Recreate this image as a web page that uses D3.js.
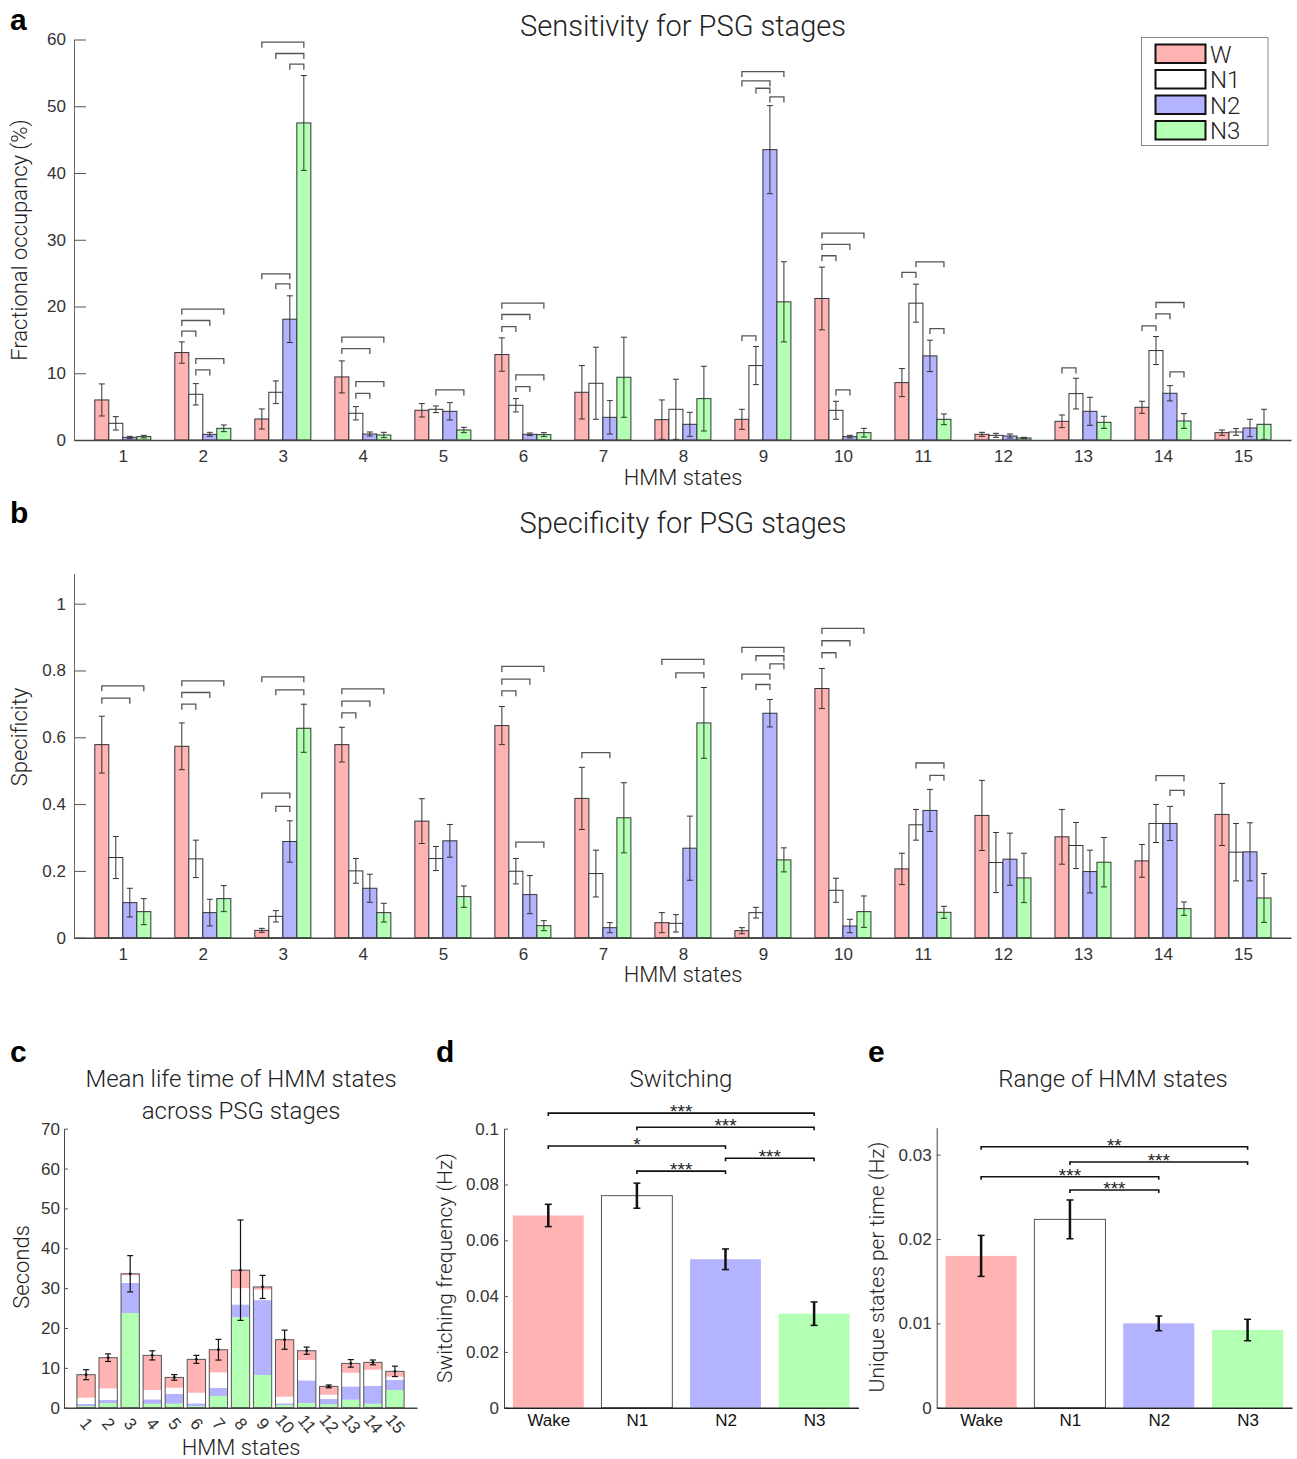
<!DOCTYPE html>
<html><head><meta charset="utf-8">
<script src="https://cdn.jsdelivr.net/npm/d3@7"></script>
<style>
body{margin:0;background:#fff}
svg text{font-family:"Liberation Sans",Arial,Helvetica,sans-serif}
svg text.light{font-family:Roboto,"Liberation Sans",sans-serif;font-weight:300}
</style></head><body>
<svg id="fig" width="1297" height="1459" xmlns="http://www.w3.org/2000/svg"></svg>
<script>
// ---- data ----
const stateLabels = ["1","2","3","4","5","6","7","8","9","10","11","12","13","14","15"];
const stageNames = ["W","N1","N2","N3"];
const stageLabels = ["Wake","N1","N2","N3"];
const stageColors = ["#ffb3b3","#ffffff","#b3b3ff","#b3ffb3"];

// fractional occupancy (%) per HMM state, columns W, N1, N2, N3
const sensMean = [
  [6.0,2.5,0.4,0.5],[13.1,6.85,0.85,1.75],[3.15,7.15,18.1,47.5],[9.45,4.0,0.9,0.75],
  [4.45,4.6,4.3,1.5],[12.8,5.2,0.85,0.8],[7.15,8.5,3.4,9.4],[3.05,4.6,2.35,6.2],
  [3.1,11.15,43.5,20.7],[21.2,4.45,0.5,1.1],[8.6,20.5,12.6,3.1],[0.85,0.7,0.6,0.3],
  [2.8,6.95,4.3,2.65],[4.9,13.4,7.0,2.85],[1.1,1.2,1.8,2.35]];
const sensErr = [
  [2.4,1.0,0.15,0.2],[1.6,1.6,0.3,0.5],[1.5,1.7,3.5,7.1],[2.4,1.0,0.3,0.4],
  [1.0,0.5,1.3,0.4],[2.5,1.0,0.2,0.3],[4.0,5.4,2.5,6.0],[2.95,4.5,1.8,4.85],
  [1.5,2.85,6.6,6.0],[4.7,1.35,0.2,0.65],[2.1,2.85,2.35,0.8],[0.3,0.3,0.3,0.1],
  [0.95,2.3,2.1,0.9],[0.9,2.1,1.15,1.1],[0.4,0.5,1.3,2.25]];
// significant pairs: [state, stage from, stage to, bracket level]
const sensSig = [
  [2,0,3,19.6],[2,0,2,17.9],[2,0,1,16.3],[2,1,3,12.2],[2,1,2,10.5],
  [3,0,3,59.6],[3,1,3,57.9],[3,2,3,56.3],[3,0,2,24.9],[3,1,2,23.4],
  [4,0,3,15.4],[4,0,2,13.7],[4,1,3,8.75],[4,1,2,7.0],
  [5,1,3,7.5],
  [6,0,3,20.5],[6,0,2,18.8],[6,0,1,17.0],[6,1,3,9.75],[6,1,2,8.0],
  [9,0,3,55.2],[9,0,2,53.8],[9,1,2,52.7],[9,2,3,51.4],[9,0,1,15.6],
  [10,0,3,31.0],[10,0,2,29.3],[10,0,1,27.6],[10,1,2,7.5],
  [11,1,3,26.7],[11,0,1,25.1],[11,2,3,16.7],
  [13,0,1,10.8],
  [14,1,3,20.6],[14,1,2,18.9],[14,0,1,17.1],[14,2,3,10.2]];
const sensTicks = [0,10,20,30,40,50,60];

// specificity per HMM state, columns W, N1, N2, N3
const specMean = [
  [0.578,0.24,0.105,0.078],[0.573,0.236,0.075,0.117],[0.022,0.064,0.288,0.627],[0.578,0.2,0.148,0.075],
  [0.349,0.237,0.29,0.123],[0.635,0.199,0.129,0.036],[0.417,0.192,0.03,0.359],[0.045,0.043,0.268,0.643],
  [0.021,0.075,0.672,0.233],[0.746,0.142,0.035,0.078],[0.206,0.338,0.381,0.076],[0.366,0.225,0.235,0.179],
  [0.302,0.276,0.198,0.226],[0.23,0.342,0.342,0.087],[0.369,0.256,0.257,0.119]];
const specErr = [
  [0.085,0.063,0.043,0.039],[0.07,0.056,0.04,0.039],[0.006,0.017,0.062,0.072],[0.052,0.037,0.042,0.028],
  [0.067,0.036,0.049,0.032],[0.057,0.038,0.057,0.015],[0.093,0.07,0.015,0.105],[0.03,0.026,0.096,0.106],
  [0.009,0.016,0.041,0.036],[0.06,0.036,0.02,0.047],[0.047,0.046,0.063,0.018],[0.105,0.09,0.078,0.074],
  [0.082,0.069,0.064,0.074],[0.049,0.057,0.051,0.02],[0.093,0.086,0.087,0.073]];
const specSig = [
  [1,0,3,0.754],[1,0,2,0.717],
  [2,0,3,0.769],[2,0,2,0.734],[2,0,1,0.699],
  [3,0,3,0.781],[3,1,3,0.742],[3,0,2,0.433],[3,1,2,0.393],
  [4,0,3,0.745],[4,0,2,0.708],[4,0,1,0.673],
  [6,0,3,0.812],[6,0,2,0.774],[6,0,1,0.739],[6,1,3,0.286],
  [7,0,2,0.554],
  [8,0,3,0.833],[8,1,3,0.793],
  [9,0,3,0.869],[9,1,3,0.844],[9,2,3,0.82],[9,0,2,0.789],[9,1,2,0.758],
  [10,0,3,0.926],[10,0,2,0.889],[10,0,1,0.853],
  [11,1,3,0.523],[11,2,3,0.486],
  [14,1,3,0.485],[14,2,3,0.441]];
const specTicks = [0,0.2,0.4,0.6,0.8,1];

// mean life time (s): per-stage share of each state's stacked bar, columns W, N1, N2, N3
const lifeSeg = [
  [5.78,1.58,0.5,0.42],[7.7,2.93,0.75,1.17],[0.4,1.9,7.55,23.75],[8.7,2.33,1.1,1.0],
  [2.6,1.5,2.5,1.0],[8.37,2.66,0.68,0.42],[5.69,3.86,2.07,2.93],[4.5,4.1,3.2,22.7],
  [0.7,2.6,18.8,8.2],[14.3,1.66,0.43,0.67],[2.34,5.1,5.69,1.17],[2.09,1.09,1.33,0.84],
  [2.34,3.43,3.35,2.0],[1.84,4.03,4.5,1.0],[1.34,0.84,2.51,4.43]];
const lifeErr = [1.25,0.95,4.55,1.15,0.7,1.0,2.6,12.6,2.9,2.4,0.9,0.35,0.95,0.6,1.3];
const lifeTicks = [0,10,20,30,40,50,60,70];

// switching frequency (Hz) per stage
const switchMean = [0.0689,0.076,0.0532,0.0337];
const switchErr = [0.004,0.0045,0.0037,0.0042];
const switchSig = [[0,3,0.1056,"***"],[1,3,0.1005,"***"],[0,2,0.0938,"*"],[2,3,0.0894,"***"],[1,2,0.0848,"***"]];
const switchTicks = [0,0.02,0.04,0.06,0.08,0.1];

// unique states per time (Hz) per stage
const rangeMean = [0.018,0.02233,0.01,0.00921];
const rangeErr = [0.00243,0.0023,0.00087,0.00127];
const rangeSig = [[0,3,0.03095,"**"],[1,3,0.02914,"***"],[0,2,0.02739,"***"],[1,2,0.02582,"***"]];
const rangeTicks = [0,0.01,0.02,0.03];

// ---- drawing ----
const svg = d3.select("#fig");
const fmtTick = d => d === 0 ? "0" : String(+d.toFixed(3));

function styleAxis(g, o) {
  g.attr("font-family", null).attr("font-size", null);
  g.select(".domain").attr("stroke", o.domain || "#555").attr("stroke-width", o.domainWidth || 1);
  g.selectAll(".tick line").attr("stroke", "#555");
  g.selectAll(".tick text").attr("font-size", o.size || 17).attr("fill", o.color || "#333");
}

function panelLabel(t, x, y) {
  svg.append("text").attr("x", x).attr("y", y).attr("font-size", 30).attr("font-weight", "bold")
    .attr("fill", "#000").text(t);
}
function lightText(t, x, y, size, rotate) {
  const el = svg.append("text").attr("class", "light").attr("font-size", size)
    .attr("fill", "#222").attr("text-anchor", "middle").text(t);
  if (rotate) el.attr("transform", `translate(${x},${y}) rotate(-90)`);
  else el.attr("x", x).attr("y", y);
  return el;
}

const barW = 0.175;
const offset = k => (k - 1.5) * barW;

function groupedPanel(o) {
  const g = svg.append("g");
  const x = d3.scaleLinear().domain([0.39, 15.6]).range([74, 1291]);
  const y = d3.scaleLinear().domain(o.yDomain).range(o.yRange);
  const cells = [];
  o.mean.forEach((row, i) => row.forEach((v, k) => cells.push({s: i + 1, k, v, e: o.err[i][k]})));
  g.selectAll("rect.bar").data(cells).join("rect").attr("class", "bar")
    .attr("x", d => x(d.s + offset(d.k) - barW / 2))
    .attr("width", x(barW) - x(0))
    .attr("y", d => y(d.v)).attr("height", d => y(0) - y(d.v))
    .attr("fill", d => stageColors[d.k]).attr("stroke", "#333").attr("stroke-width", 1);
  const eb = g.selectAll("g.err").data(cells).join("g").attr("class", "err")
    .attr("stroke", "#333").attr("stroke-width", 1);
  eb.append("line").attr("x1", d => x(d.s + offset(d.k))).attr("x2", d => x(d.s + offset(d.k)))
    .attr("y1", d => y(d.v - d.e)).attr("y2", d => y(d.v + d.e));
  [-1, 1].forEach(sg => eb.append("line")
    .attr("x1", d => x(d.s + offset(d.k)) - 3).attr("x2", d => x(d.s + offset(d.k)) + 3)
    .attr("y1", d => y(d.v + sg * d.e)).attr("y2", d => y(d.v + sg * d.e)));
  g.selectAll("path.sig").data(o.sig).join("path").attr("class", "sig")
    .attr("fill", "none").attr("stroke", "#555").attr("stroke-width", 1.3)
    .attr("d", d => {
      const x1 = x(d[0] + offset(d[1])), x2 = x(d[0] + offset(d[2])), yy = y(d[3]);
      return `M${x1},${yy + 5.5}V${yy}H${x2}V${yy + 5.5}`;
    });
  const ya = g.append("g").attr("transform", "translate(74,0)")
    .call(d3.axisLeft(y).tickValues(o.ticks).tickFormat(fmtTick).tickSizeInner(-12).tickSizeOuter(0).tickPadding(8));
  styleAxis(ya, {domain: "#666"});
  const xa = g.append("g").attr("transform", `translate(0,${o.yRange[0]})`)
    .call(d3.axisBottom(x).tickValues(d3.range(1, 16)).tickFormat(i => stateLabels[i - 1]).tickSize(0).tickPadding(10));
  styleAxis(xa, {domain: "#444", domainWidth: 1.6});
  return {x, y};
}

// panel a
panelLabel("a", 10, 30);
lightText("Sensitivity for PSG stages", 683, 36, 29);
groupedPanel({mean: sensMean, err: sensErr, sig: sensSig, yDomain: [0, 60], yRange: [440, 39.5], ticks: sensTicks});
lightText("Fractional occupancy (%)", 27, 240, 22, true);
lightText("HMM states", 683, 485, 22);

// legend
const lg = svg.append("g");
lg.append("rect").attr("x", 1141.5).attr("y", 37.5).attr("width", 126.5).attr("height", 108)
  .attr("fill", "#fff").attr("stroke", "#888").attr("stroke-width", 1);
stageNames.forEach((nm, k) => {
  const yy = 44.5 + k * 25.5;
  lg.append("rect").attr("x", 1155.5).attr("y", yy).attr("width", 50).attr("height", 18.5)
    .attr("fill", stageColors[k]).attr("stroke", "#111").attr("stroke-width", 2);
  lg.append("text").attr("class", "light").attr("x", 1210).attr("y", yy + 18).attr("font-size", 24)
    .attr("fill", "#222").text(nm);
});

// panel b
panelLabel("b", 10, 523);
lightText("Specificity for PSG stages", 683, 533, 29);
groupedPanel({mean: specMean, err: specErr, sig: specSig, yDomain: [0, 1.09], yRange: [937.7, 573.6], ticks: specTicks});
lightText("Specificity", 27, 737, 22, true);
lightText("HMM states", 683, 982, 22);

// panel c: stacked life times
panelLabel("c", 10, 1062);
lightText("Mean life time of HMM states", 241, 1087, 24);
lightText("across PSG stages", 241, 1119, 24);
{
  const x = d3.scaleLinear().domain([0, 16]).range([64, 417]);
  const y = d3.scaleLinear().domain([0, 70]).range([1407.7, 1128.7]);
  const bw = 0.83;
  const stackOrder = [3, 2, 1, 0];
  const rows = lifeSeg.map((r, i) => ({s: i + 1, W: r[0], N1: r[1], N2: r[2], N3: r[3]}));
  const series = d3.stack().keys(stackOrder.map(k => stageNames[k]))(rows);
  const g = svg.append("g");
  series.forEach(sr => {
    const k = stageNames.indexOf(sr.key);
    g.append("g").selectAll("rect").data(sr).join("rect")
      .attr("x", d => x(d.data.s - bw / 2)).attr("width", x(bw) - x(0))
      .attr("y", d => y(d[1])).attr("height", d => y(d[0]) - y(d[1]))
      .attr("fill", stageColors[k]);
  });
  const totals = rows.map(r => ({s: r.s, t: r.W + r.N1 + r.N2 + r.N3, e: lifeErr[r.s - 1]}));
  g.selectAll("rect.tot").data(totals).join("rect").attr("class", "tot")
    .attr("x", d => x(d.s - bw / 2)).attr("width", x(bw) - x(0))
    .attr("y", d => y(d.t)).attr("height", d => y(0) - y(d.t))
    .attr("fill", "none").attr("stroke", "#555").attr("stroke-width", 1);
  const eb = g.selectAll("g.err").data(totals).join("g").attr("stroke", "#111").attr("stroke-width", 1.2);
  eb.append("line").attr("x1", d => x(d.s)).attr("x2", d => x(d.s))
    .attr("y1", d => y(d.t - d.e)).attr("y2", d => y(d.t + d.e));
  [-1, 1].forEach(sg => eb.append("line").attr("x1", d => x(d.s) - 3).attr("x2", d => x(d.s) + 3)
    .attr("y1", d => y(d.t + sg * d.e)).attr("y2", d => y(d.t + sg * d.e)));
  g.selectAll("circle").data(totals).join("circle").attr("cx", d => x(d.s)).attr("cy", d => y(d.t))
    .attr("r", 1.4).attr("fill", "#111");
  const ya = g.append("g").attr("transform", "translate(64,0)")
    .call(d3.axisLeft(y).tickValues(lifeTicks).tickSizeInner(-4).tickSizeOuter(0).tickPadding(4));
  styleAxis(ya, {size: 17, domain: "#444"});
  const xa = g.append("g").attr("transform", "translate(0,1407.7)")
    .call(d3.axisBottom(x).tickValues(d3.range(1, 16)).tickFormat(i => stateLabels[i - 1]).tickSize(0));
  styleAxis(xa, {size: 17, domain: "#444", domainWidth: 1.4});
  xa.selectAll(".tick text").attr("y", 0).attr("dy", "0.35em").attr("text-anchor", "middle")
    .attr("transform", "translate(0,16) rotate(50)");
  lightText("Seconds", 29, 1267, 22, true);
  lightText("HMM states", 241, 1455, 22);
}

// panels d and e
function stagePanel(o) {
  const x = d3.scaleLinear().domain([0.5, 4.5]).range(o.xRange);
  const y = d3.scaleLinear().domain(o.yDomain).range([1407.7, o.yTop]);
  const g = svg.append("g");
  const bw = 0.8;
  const data = o.mean.map((v, k) => ({k, v, e: o.err[k]}));
  g.selectAll("rect").data(data).join("rect")
    .attr("x", d => x(d.k + 1 - bw / 2)).attr("width", x(bw) - x(0))
    .attr("y", d => y(d.v)).attr("height", d => y(0) - y(d.v))
    .attr("fill", d => stageColors[d.k]).attr("stroke", d => d.k === 1 ? "#555" : "none").attr("stroke-width", 1);
  const eb = g.selectAll("g.err").data(data).join("g").attr("stroke", "#111").attr("stroke-width", 2.5);
  eb.append("line").attr("x1", d => x(d.k + 1)).attr("x2", d => x(d.k + 1))
    .attr("y1", d => y(d.v - d.e)).attr("y2", d => y(d.v + d.e));
  [-1, 1].forEach(sg => eb.append("line").attr("stroke-width", 1.5)
    .attr("x1", d => x(d.k + 1) - 3.5).attr("x2", d => x(d.k + 1) + 3.5)
    .attr("y1", d => y(d.v + sg * d.e)).attr("y2", d => y(d.v + sg * d.e)));
  const sg = g.selectAll("g.sig").data(o.sig).join("g");
  sg.append("path").attr("fill", "none").attr("stroke", "#111").attr("stroke-width", 1.6)
    .attr("d", d => `M${x(d[0] + 1)},${y(d[2]) + 3}V${y(d[2])}H${x(d[1] + 1)}V${y(d[2]) + 3}`);
  sg.append("text").attr("x", d => (x(d[0] + 1) + x(d[1] + 1)) / 2).attr("y", d => y(d[2]) + 5)
    .attr("text-anchor", "middle").attr("font-size", 19).attr("fill", "#222")
    .text(d => d[3]);
  const ya = g.append("g").attr("transform", `translate(${o.xRange[0]},0)`)
    .call(d3.axisLeft(y).tickValues(o.ticks).tickFormat(fmtTick).tickSizeInner(-4).tickSizeOuter(0).tickPadding(5));
  styleAxis(ya, {size: 17, domain: "#444"});
  const xa = g.append("g").attr("transform", "translate(0,1407.7)")
    .call(d3.axisBottom(x).tickValues([1, 2, 3, 4]).tickFormat(i => stageLabels[i - 1]).tickSize(0).tickPadding(6));
  styleAxis(xa, {size: 17, domain: "#222", domainWidth: 1.4, color: "#111"});
}

panelLabel("d", 436, 1062);
lightText("Switching", 681, 1087, 24);
stagePanel({mean: switchMean, err: switchErr, sig: switchSig, xRange: [504, 858.4], yDomain: [0, 0.1], yTop: 1128.7, ticks: switchTicks});
lightText("Switching frequency (Hz)", 452, 1268, 21, true);

panelLabel("e", 868, 1062);
lightText("Range of HMM states", 1113, 1087, 24);
stagePanel({mean: rangeMean, err: rangeErr, sig: rangeSig, xRange: [936.7, 1292], yDomain: [0, 0.0332], yTop: 1127.7, ticks: rangeTicks});
lightText("Unique states per time (Hz)", 884, 1267, 21, true);
</script></body></html>
